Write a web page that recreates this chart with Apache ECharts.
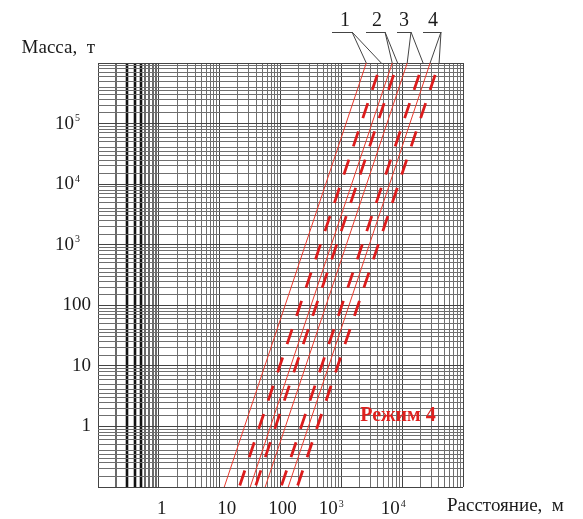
<!DOCTYPE html>
<html><head><meta charset="utf-8">
<script src="https://cdn.jsdelivr.net/npm/echarts@6.0.0/dist/echarts.min.js"></script>
<style>html,body{margin:0;padding:0;background:#fff}#c{width:583px;height:519px}</style>
</head><body><div id="c"></div>
<script>
// ---- data ----
const massRange = [0.1, 1e6];          // y axis (Масса, т)
const distRange = [0.1, 1e5];          // x axis (Расстояние, м)
const xTickLabels = ['1', '10', '100', '10^3', '10^4'];       // at 1 .. 1e4
const yTickLabels = ['1', '10', '100', '10^3', '10^4', '10^5']; // at 1 .. 1e5
const curveNames = ['1', '2', '3', '4'];
const lineMassEnds = [1e6, 0.1];
const solidDistTop = [2570, 6860, 12100, 28800];
const solidDistBottom = [11.9, 31.8, 56, 134];
const dashedDistTop = [4530, 8410, 22080, 40450];
const dashedDistBottom = [21.0, 38.5, 102, 188];
const gridMultX = [1, 2, 3, 4, 5, 6, 7, 8, 9];
const gridMultY = [1, 1.5, 2, 2.5, 3, 3.5, 4, 5, 6, 7, 8, 9];
const regimeText = 'Режим 4';
const yName = 'Масса,  т';
const xName = 'Расстояние,  м';

// ---- chart ----
const FONT = "'Liberation Serif','Times New Roman',serif";
const chart = echarts.init(document.getElementById('c'), null, {renderer: 'canvas'});

const gridData = [];
for (let e = -1; e <= 4; e++) {
  gridMultX.forEach(m => {
    const v = m * Math.pow(10, e);
    let cls = m === 1 ? 1 : 0;
    if (e === -1) cls = (m === 1) ? 1 : ((m >= 3 && m <= 5) ? 2 : 3);
    gridData.push([v, massRange[0], 0, cls]);
  });
}
gridData.push([distRange[1], massRange[0], 0, 1]);
for (let e = -1; e <= 5; e++) {
  gridMultY.forEach(m => {
    gridData.push([distRange[0], m * Math.pow(10, e), 1, m === 1 ? 1 : 0]);
  });
}
gridData.push([distRange[0], massRange[1], 1, 1]);

const gridStyles = [
  {c: '#6f6f6f', w: 1},
  {c: '#444444', w: 1},
  {c: '#111111', w: 2.6},
  {c: '#2a2a2a', w: 1.4}
];
function snap(v, w) { return w % 2 === 1 ? Math.round(v - 0.5) + 0.5 : Math.round(v); }
function renderGrid(params, api) {
  const dir = api.value(2), cls = api.value(3);
  const st = gridStyles[cls];
  let shape;
  if (dir === 0) {
    const x = api.value(0);
    const p1 = api.coord([x, massRange[0]]), p2 = api.coord([x, massRange[1]]);
    const xs = snap(p1[0], st.w);
    shape = {x1: xs, y1: p1[1], x2: xs, y2: p2[1]};
  } else {
    const y = api.value(1);
    const p1 = api.coord([distRange[0], y]), p2 = api.coord([distRange[1], y]);
    const ys = snap(p1[1], st.w);
    shape = {x1: p1[0], y1: ys, x2: p2[0], y2: ys};
  }
  return {type: 'line', shape: shape, style: {stroke: st.c, lineWidth: st.w}, silent: true};
}

const xShift = [3, 7, 2, -10, -9];
function tickRich(labels, shifts, extraRight) {
  const rich = {};
  labels.forEach((s, i) => {
    const sh = shifts ? shifts[i] : 0;
    const hasSup = s.indexOf('^') >= 0;
    const padL = sh > 0 ? 2 * sh : 0;
    const padR = (sh < 0 ? -2 * sh : 0) + (hasSup ? extraRight : 0);
    rich['b' + i] = {fontFamily: FONT, fontSize: 19, color: '#1a1a1a', lineHeight: 20,
      padding: [0, hasSup ? 0 : padR, 0, padL]};
    rich['s' + i] = {fontFamily: FONT, fontSize: 10, color: '#1a1a1a', lineHeight: 10,
      verticalAlign: 'top', padding: [0, padR, 0, 1]};
  });
  return rich;
}
function tickFormatter(labels) {
  return function (v) {
    const e = Math.round(Math.log10(v));
    const s = labels[e];
    if (s === undefined) return '';
    if (s.indexOf('^') >= 0) {
      const p = s.split('^');
      return '{b' + e + '|' + p[0] + '}{s' + e + '|' + p[1] + '}';
    }
    return '{b' + e + '|' + s + '}';
  };
}

const series = [{
  type: 'custom', name: 'grid', silent: true, z: 1,
  renderItem: renderGrid, data: gridData,
  dimensions: ['x', 'y', 'dir', 'cls'], encode: {x: 0, y: 1}
}];
curveNames.forEach((n, i) => {
  series.push({
    type: 'line', name: n, z: 3, symbol: 'none', silent: true,
    data: [[solidDistTop[i], lineMassEnds[0]], [solidDistBottom[i], lineMassEnds[1]]],
    lineStyle: {color: '#e8392c', width: 1}
  });
  series.push({
    type: 'line', name: n + "'", z: 4, symbol: 'none', silent: true,
    data: [[dashedDistTop[i], lineMassEnds[0]], [dashedDistBottom[i], lineMassEnds[1]]],
    lineStyle: {color: '#dc1c1c', width: 2.8, type: [15.8, 14.0], dashOffset: 17.3, cap: 'butt'}
  });
});

chart.setOption({
  animation: false,
  backgroundColor: '#fff',
  grid: {left: 98, top: 63, right: 120, bottom: 32, containLabel: false},
  xAxis: {
    type: 'log', logBase: 10, min: distRange[0], max: distRange[1],
    axisLine: {show: false}, axisTick: {show: false}, splitLine: {show: false},
    axisLabel: {margin: 12, formatter: tickFormatter(xTickLabels), rich: tickRich(xTickLabels, xShift, 0)}
  },
  yAxis: {
    type: 'log', logBase: 10, min: massRange[0], max: massRange[1],
    name: yName, nameLocation: 'end', nameGap: 15,
    nameTextStyle: {fontFamily: FONT, fontSize: 19, color: '#1a1a1a', align: 'right',
      verticalAlign: 'middle', padding: [0, 3, 0, 0]},
    axisLine: {show: false}, axisTick: {show: false}, splitLine: {show: false},
    axisLabel: {margin: 7, formatter: tickFormatter(yTickLabels), rich: tickRich(yTickLabels, null, 11)}
  },
  series: series
});

// annotations: curve number labels with leader lines to the top ends of the lines
const labelCenters = [345, 377, 404, 433];
const underlines = [[332, 352], [366, 385], [397, 411], [423, 441]];
const labelY = 21, underY = 32;
const graphics = [];
curveNames.forEach((n, i) => {
  graphics.push({type: 'text', x: labelCenters[i], y: labelY, silent: true,
    style: {text: n, font: '20px ' + FONT, fill: '#1a1a1a', align: 'center', verticalAlign: 'middle'}});
  const ax = underlines[i][1];
  graphics.push({type: 'line', silent: true, shape: {x1: underlines[i][0], y1: underY + 0.5, x2: ax, y2: underY + 0.5},
    style: {stroke: '#444', lineWidth: 1}});
  [solidDistTop[i], dashedDistTop[i]].forEach(R => {
    const p = chart.convertToPixel({gridIndex: 0}, [R, lineMassEnds[0]]);
    graphics.push({type: 'line', silent: true, shape: {x1: ax, y1: underY, x2: p[0], y2: p[1]},
      style: {stroke: '#444', lineWidth: 1}});
  });
});
graphics.push({type: 'text', x: 447, y: 506, silent: true,
  style: {text: xName, font: '19px ' + FONT, fill: '#1a1a1a', align: 'left', verticalAlign: 'middle'}});
graphics.push({type: 'text', x: 398, y: 416, silent: true, z: 10,
  style: {text: regimeText, font: 'bold 20px ' + FONT, fill: '#e0201e', align: 'center', verticalAlign: 'middle'}});
chart.setOption({graphic: graphics});
</script>
</body></html>
